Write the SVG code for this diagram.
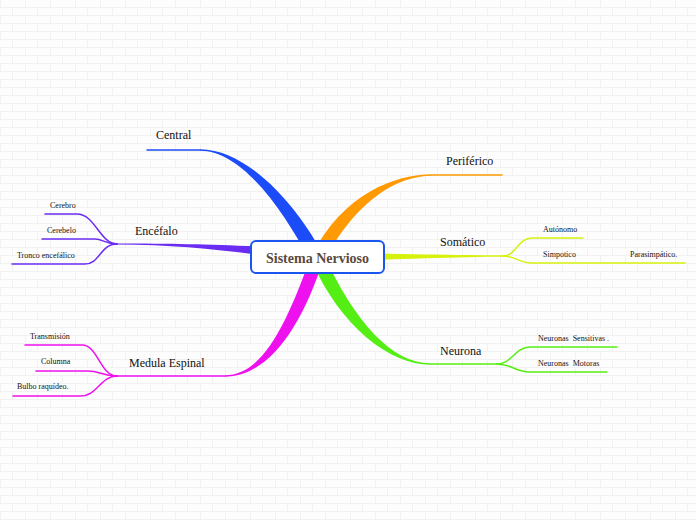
<svg xmlns="http://www.w3.org/2000/svg" width="696" height="520" viewBox="0 0 696 520">
<style>
.lbl{font-family:"Liberation Serif","Times New Roman",serif;font-size:12px;fill:#111}
.sm{font-family:"Liberation Serif","Times New Roman",serif;font-size:8px;fill:#111;white-space:pre}
.ln{fill:none;stroke-width:1.5;stroke-linecap:round}
</style>
<defs>
<pattern id="brick" width="50" height="16" patternUnits="userSpaceOnUse">
<rect width="50" height="16" fill="#fdfdfd"/>
<path d="M0,7.5H50M0,15.5H50M0.5,0V8M25.5,0V8M12.5,8V16M37.5,8V16" stroke="#f1f1f1" stroke-width="1" fill="none"/>
</pattern>
</defs>
<rect width="696" height="520" fill="url(#brick)"/>
<g id="connectors">
<!-- Central -->
<path d="M200,149.2 C252,149.2 304,216 324,257 L312,264 C292,227 248,150.8 200,150.8 Z" fill="#1b4cf7"/>
<path class="ln" stroke="#1b4cf7" d="M147,150 L200,150"/>
<!-- Periferico -->
<path d="M432,174.3 C395,174.3 343,194 312,255 L323,263 C354,203 395,175.7 432,175.7 Z" fill="#ff9a05"/>
<path class="ln" stroke="#ff9a05" d="M432,175 L502,175"/>
<!-- Somatico -->
<path d="M318,252 C400,254 460,255.3 503,255.3 L503,256.7 C460,256.7 400,259 318,262 Z" fill="#d6f20c"/>
<path class="ln" stroke="#d6f20c" d="M503,256 C516,256 518,238 532,238 L583,238"/>
<path class="ln" stroke="#d6f20c" d="M503,256 C516,256 518,263 532,263 L685,263"/>
<!-- Neurona -->
<path d="M430,363.3 C392,363.3 354,321 324,255 L312,262 C341,327 390,364.7 430,364.7 Z" fill="#55ee14"/>
<path class="ln" stroke="#55ee14" d="M430,364 L497,364"/>
<path class="ln" stroke="#55ee14" d="M497,364 C512,364 515,347 530,347 L617,347"/>
<path class="ln" stroke="#55ee14" d="M497,364 C512,364 515,372 530,372 L607,372"/>
<!-- Medula Espinal -->
<path d="M225,375.3 C264,375.3 288,320 311,256 L323,260 C302,327 268,376.7 225,376.7 Z" fill="#ee10ee"/>
<path class="ln" stroke="#ee10ee" d="M225,376 L117,376"/>
<path class="ln" stroke="#ee10ee" d="M117,376 C100,376 98,345 82,345 L25,345"/>
<path class="ln" stroke="#ee10ee" d="M117,376 C102,376 100,371 88,371 L36,371"/>
<path class="ln" stroke="#ee10ee" d="M117,376 C100,376 98,396 80,396 L13,396"/>
<!-- Encefalo -->
<path d="M117,243.4 C190,243.4 232,245 318,249 L318,262 C240,253 190,244.6 117,244.6 Z" fill="#6a2cf2"/>
<path class="ln" stroke="#6a2cf2" d="M117,244 C100,244 95,214 77,214 L45,214"/>
<path class="ln" stroke="#6a2cf2" d="M117,244 C105,244 103,239 95,239 L42,239"/>
<path class="ln" stroke="#6a2cf2" d="M117,244 C100,244 100,264 85,264 L12,264"/>
</g>
<g id="node-root">
<rect x="251" y="241" width="133" height="32" rx="5" fill="#fff" stroke="#1a55f0" stroke-width="2"/>
<text x="317.5" y="262.5" text-anchor="middle" style="font-family:'Liberation Serif','Times New Roman',serif;font-size:14px;font-weight:bold;fill:#5a4a3c">Sistema Nervioso</text>
</g>
<g id="node-central"><text class="lbl" x="156" y="139">Central</text></g>
<g id="node-periferico"><text class="lbl" x="446" y="165">Periférico</text></g>
<g id="node-somatico"><text class="lbl" x="440" y="246">Somático</text></g>
<g id="node-autonomo"><text class="sm" x="543" y="232">Autónomo</text></g>
<g id="node-simpotico"><text class="sm" x="543" y="257">Simpotico</text></g>
<g id="node-parasimpatico"><text class="sm" x="630" y="257">Parasimpático.</text></g>
<g id="node-neurona"><text class="lbl" x="440" y="355">Neurona</text></g>
<g id="node-sensitivas"><text class="sm" x="538" y="341">Neuronas  Sensitivas .</text></g>
<g id="node-motoras"><text class="sm" x="538" y="366">Neuronas  Motoras</text></g>
<g id="node-medula"><text class="lbl" x="129" y="367">Medula Espinal</text></g>
<g id="node-transmision"><text class="sm" x="30" y="339">Transmisión</text></g>
<g id="node-columna"><text class="sm" x="41" y="364">Columna</text></g>
<g id="node-bulbo"><text class="sm" x="17" y="389">Bulbo raquídeo.</text></g>
<g id="node-encefalo"><text class="lbl" x="135" y="235">Encéfalo</text></g>
<g id="node-cerebro"><text class="sm" x="50" y="208">Cerebro</text></g>
<g id="node-cerebelo"><text class="sm" x="47" y="233">Cerebelo</text></g>
<g id="node-tronco"><text class="sm" x="17" y="258">Tronco encefálico</text></g>
</svg>
